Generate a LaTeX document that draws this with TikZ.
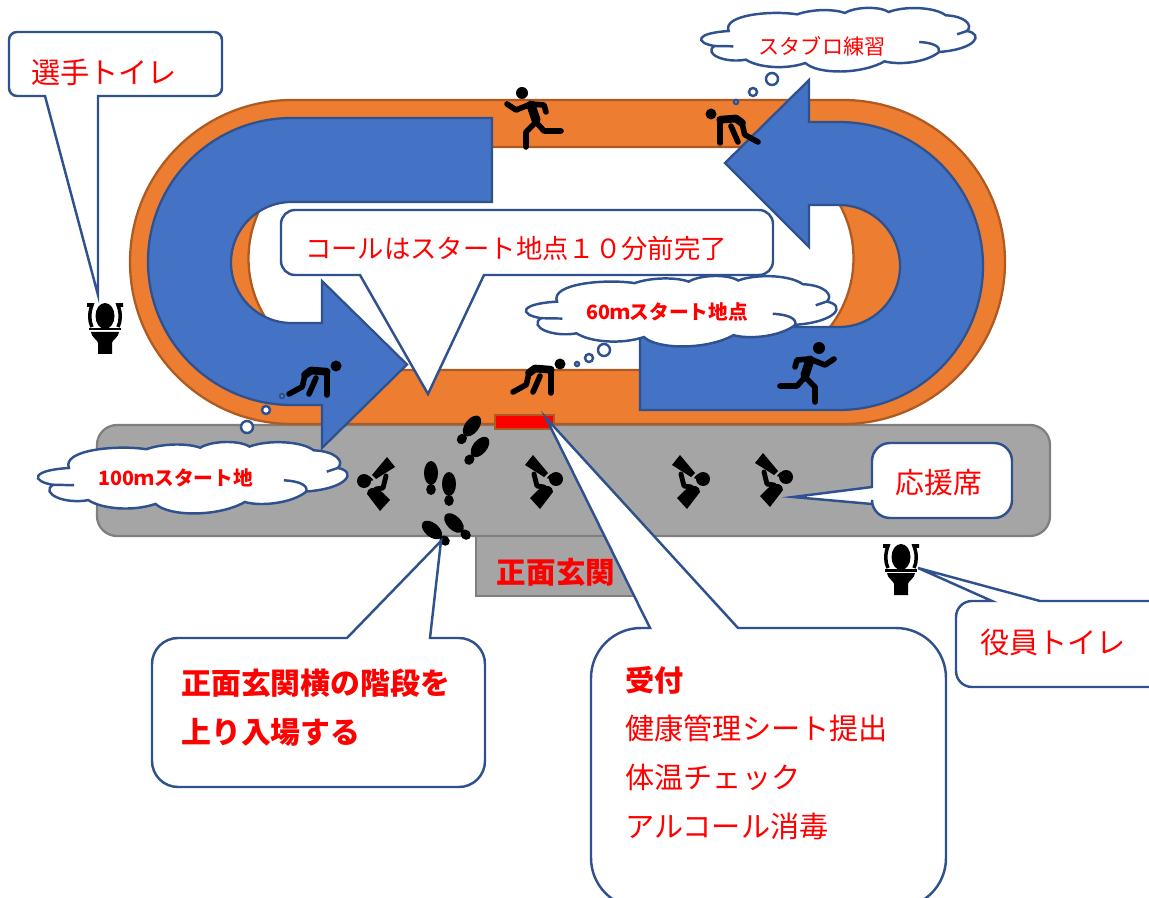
\documentclass[tikz,border=0pt]{standalone}
\usepackage{fontspec}
\setmainfont{Noto Sans CJK JP}
\definecolor{track-orange}{HTML}{ED7D31}
\definecolor{track-brown}{HTML}{AE5A21}
\definecolor{arrow-blue}{HTML}{4472C4}
\definecolor{line-blue}{HTML}{2F528F}
\definecolor{stand-grey}{HTML}{A5A5A5}
\definecolor{stand-edge}{HTML}{7F7F7F}
\newlength{\basisa}
\setlength{\basisa}{0.02cm}

\tikzset{
	track/.style={fill=track-orange,draw=track-brown,line width=1.3pt},
	uarrow/.style={fill=arrow-blue,draw=line-blue,line width=1.3pt},
	stand/.style={fill=stand-grey,draw=stand-edge,line width=1.3pt},
	bubble/.style={fill=white,draw=line-blue,line width=1.4pt},
	icon/.style={draw=black,line width=3.2pt,line cap=round,line join=round},
	bigtext/.style={text=red,inner sep=0pt,font=\fontsize{16.4}{27.8}\selectfont},
	cloudtext/.style={text=red,inner sep=0pt,font=\fontsize{11.5}{14}\selectfont},
	pics/cloudblob/.style={code={
		\draw[bubble] (4.2,60) .. controls (-3,55) and (-3,40) .. (9.4,37)
			.. controls (7,12) and (25,5) .. (34.5,11.3)
			.. controls (40,3) and (48,3) .. (52,9.2)
			.. controls (56,-1) and (65,-1) .. (68,7.7)
			.. controls (74,-2) and (85,0) .. (88.9,12.8)
			.. controls (96,14) and (99,28) .. (96.7,36.9)
			.. controls (103,42) and (100,65) .. (86.5,69.2)
			.. controls (82,85) and (72,90) .. (66.5,83.6)
			.. controls (58,104) and (42,104) .. (37.5,86.2)
			.. controls (30,97) and (20,93) .. (15.7,81)
			.. controls (8,87) and (0,72) .. (4.2,60) -- cycle;
		\draw[bubble,fill=none] (4.2,60) -- (11.1,60.5);
		\draw[bubble,fill=none] (79.2,53.8) .. controls (84,55) and (87,60) .. (86.5,69.2);
		\draw[bubble,fill=none] (93.1,42) -- (96.7,36.9);
	}},
	pics/crouch/.style={code={
		\fill (0,0) circle[radius=5.5];
		\draw[icon] (-9.3,29) -- (-9.3,5.7);
		\draw[icon,line width=4.4pt] (-9.3,5.7) -- (-25,4.5) -- (-31,9);
		\draw[icon] (-31,9) -- (-33.7,20.7) -- (-47,28);
		\draw[icon] (-20,12) -- (-23,19) -- (-27,28);
	}},
	pics/runner/.style={code={
		\fill (0,0) circle[radius=6];
		\draw[icon,line width=5.2pt] (-9,12) -- (-14,27);
		\draw[icon] (-24,19) -- (-22,12) -- (-9,11) -- (6,17) -- (15,11);
		\draw[icon] (-39,38) -- (-22,38) -- (-14,29) -- (-4,39) -- (-4,54);
	}},
	pics/toilet/.style={code={
		\fill (0,13) ellipse[x radius=9.5,y radius=13];
		\draw[line width=2pt] (-18,2) -- (-13,2) .. controls (-16,10) and (-16,18) .. (-13,24);
		\draw[line width=2pt] (18,2) -- (13,2) .. controls (16,10) and (16,18) .. (13,24);
		\fill (-16,25) rectangle (16,27.5);
		\fill (-14,29) -- (14,29) .. controls (14,34) and (7,37) .. (7,40) -- (7,51)
			-- (-7,51) -- (-7,40) .. controls (-7,37) and (-14,34) .. (-14,29) -- cycle;
	}},
	pics/cheerer/.style={code={
		\fill (0,0) circle[radius=7];
		\fill (-23,-24) -- (-31,-14) -- (-12,-2) -- (-8,-6) -- cycle;
		\fill (-26,19) -- (-16,30) -- (-3,13) .. controls (-3,7) and (-9,4) .. (-18,11) -- cycle;
		\draw[icon,line width=2.8pt] (-22,-5) -- (-19,7) -- (-12,8);
		\draw[icon,line width=1.2pt] (-8,-1) -- (-5,-4);
	}},
	pics/shoe/.style={code={
		\fill (0,0) ellipse[x radius=7,y radius=12];
		\fill (0,16.5) ellipse[x radius=4.8,y radius=5.5];
	}}
}

\begin{document}
\begin{tikzpicture}[x=\basisa,y=-\basisa]
	\useasboundingbox (0,0) rectangle (1149,898);

	\draw[stand,rounded corners=20\basisa] (97,425) rectangle (1050,536);
	\draw[stand] (476,536) rectangle (640,596);

	\draw[track,even odd rule] (292,100) -- (843,100) arc (-90:90:162) -- (292,424) arc (90:270:162) -- cycle
		(360,147) -- (742,147) arc (-90:90:111.5) -- (360,370) arc (90:270:111.5) -- cycle;
	\draw[stand,draw=track-brown,fill=red,line width=1.6pt] (495,415) rectangle (554,429);

	\draw[uarrow] (492,118) -- (291.5,118) arc (-90:-270:143.5) -- (322,405) -- (322,448) -- (407,364.5)
		-- (322,281) -- (322,323) -- (291.5,323) arc (90:270:60.5) -- (492,202) -- cycle;
	\draw[uarrow] (809,80) -- (725,163) -- (809,247) -- (809,205) -- (839,205) arc (-90:90:61)
		-- (640,327) -- (640,410) -- (839,410) arc (90:-90:144) -- (809,122) -- cycle;

	\pic at (522,93) [xscale=-1] {runner};
	\pic at (819,348) {runner};
	\pic at (711,114) [xscale=-1] {crouch};
	\pic at (560,364) {crouch};
	\pic at (336,366) {crouch};

	\pic at (105,303) {toilet};
	\pic at (901,544) {toilet};

	\pic at (364,481) [xscale=-1] {cheerer};
	\pic at (556,479) {cheerer};
	\pic at (703,479) {cheerer};
	\pic at (786,477) {cheerer};

	\pic at (472,426) [rotate=-38] {shoe};
	\pic at (480,447) [rotate=-40] {shoe};
	\pic at (431,473) {shoe};
	\pic at (449,484) {shoe};
	\pic at (432,530) [rotate=50] {shoe};
	\pic at (454,523) [rotate=45] {shoe};

	\draw[bubble,rounded corners=8\basisa] (45,96) -- (9,96) -- (9,32) -- (222,32) -- (222,96)
		[sharp corners] -- (98,96) -- (98,295) -- cycle;
	\draw[bubble,rounded corners=14\basisa] (360,275) -- (281,275) -- (281,210) -- (773,210) -- (773,275)
		[sharp corners] -- (484,275) -- (428,394) -- cycle;
	\draw[bubble,rounded corners=18\basisa] (872,504) -- (872,518) -- (1012,518) -- (1012,443) -- (872,443)
		[sharp corners] -- (872,487) -- (793,497) -- cycle;
	\draw[bubble,rounded corners=16\basisa] (992,601) -- (956,601) -- (956,687) -- (1170,687) -- (1170,601)
		[sharp corners] -- (1040,601) -- (918,568) -- cycle;
	\draw[bubble,rounded corners=26\basisa] (347,638) -- (152,638) -- (152,787) -- (485,787) -- (485,638)
		[sharp corners] -- (430,638) -- (441,541) -- cycle;
	\draw[bubble,rounded corners=50\basisa] (650,628) -- (591,628) -- (591,908) -- (946,908) -- (946,628)
		[sharp corners] -- (738,628) -- (546,418) -- cycle;

	\foreach \cx/\cy/\cr in {772/79/6,753/92/4,736/102/2,604/350/6,589/358/4,577/364/2,247/427/6,266/410/4,282/396/2}
		\draw[bubble] (\cx,\cy) circle[radius=\cr];
	\pic at (703,7) [xscale=2.73,yscale=0.65] {cloudblob};
	\pic at (528,275) [xscale=3.09,yscale=0.72] {cloudblob};
	\pic at (40,441) [xscale=3.08,yscale=0.73] {cloudblob};

	\draw (104,72) node[bigtext,font=\fontsize{16.6}{20}\selectfont] (PlayerToilet) {選手トイレ};
	\draw (516,248) node[bigtext,font=\fontsize{15}{20}\selectfont] (CallNotice) {コールはスタート地点１０分前完了};
	\draw (822,46) node[cloudtext,font=\fontsize{12}{14}\selectfont] (BlockPractice) {スタブロ練習};
	\draw (667,312) node[cloudtext,font=\fontsize{11.2}{14}\bfseries] (Start60) {60ｍスタート地点};
	\draw (176,478) node[cloudtext,font=\fontsize{11.2}{14}\bfseries] (Start100) {100ｍスタート地};
	\draw (556,572) node[bigtext,font=\fontsize{16.8}{20}\bfseries] (FrontDoor) {正面玄関};
	\draw (939,483) node[bigtext] (Cheering) {応援席};
	\draw (1053,642) node[bigtext,font=\fontsize{16.6}{20}\selectfont] (StaffToilet) {役員トイレ};
	\draw (181,708) node[bigtext,anchor=west,align=left,font=\fontsize{17}{27.8}\bfseries] (EnterNote) {正面玄関横の階段を\\上り入場する};
	\draw (625,753) node[bigtext,anchor=west,align=left,font=\fontsize{16.6}{27.8}\selectfont] (Reception) {{\bfseries 受付}\\健康管理シート提出\\体温チェック\\アルコール消毒};
\end{tikzpicture}
\end{document}
